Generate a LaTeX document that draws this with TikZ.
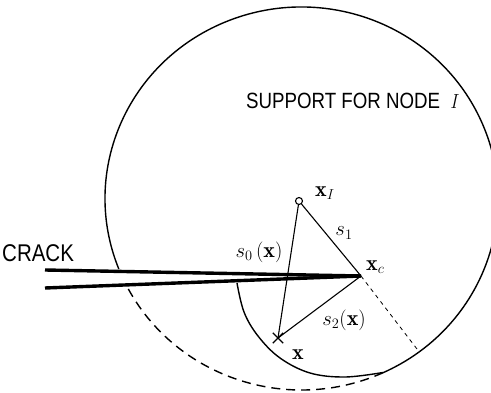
\documentclass[tikz,border=0pt]{standalone}
\usepackage{fontspec}
\setsansfont{Liberation Sans}
\usetikzlibrary{calc,shapes.misc}
\begin{document}
\begin{tikzpicture}[x=1pt,y=-1pt,
  thinline/.style={line width=1.1pt},
  bound/.style={line width=1.4pt},
  crackline/.style={line width=3.4pt},
  lab/.style={font=\fontsize{22}{24}\selectfont, inner sep=0pt},
  txt/.style={font=\sffamily\fontsize{18.7}{22}\selectfont, inner sep=0pt}]
\useasboundingbox (0,0) rectangle (491,393);
\coordinate (C) at (301.5,198.5);
\coordinate (xc) at (361,276);
\coordinate (cu) at (45,270);
\coordinate (cl) at (45,288);
\coordinate (T) at (417,349);
\coordinate (M) at ([shift={(65.5:196.5 and 191.5)}]C);
\coordinate (L) at ([shift={(151.8:196.5 and 191.5)}]C);
% support boundary
\draw[bound] (M) arc[start angle=65.5, end angle=-201.6, x radius=196.5, y radius=191.5];
\draw[bound, dash pattern=on 9pt off 6pt] (L) arc[start angle=151.8, end angle=65.5, x radius=196.5, y radius=191.5];
\draw[bound] plot[smooth, tension=0.6] coordinates {(237,283) (244,312) (258,336) (280,358) (310,373) (345,377) (383,372.5)};
% crack
\draw[crackline] (cu) -- (xc);
\draw[crackline] (cl) -- (xc);
% points
\node[circle, draw, thinline, minimum size=7pt, inner sep=0pt] (xI) at (299,201) {};
\node[cross out, draw, bound, minimum size=9pt, inner sep=0pt] (x) at (278,338) {};
% connectors
\draw[thinline] (xI) -- (xc);
\draw[thinline] (xI) -- (x.center);
\draw[thinline] (x.center) -- (xc);
\draw[line width=0.8pt, dash pattern=on 4pt off 4pt] (xc) -- (T);
% labels
\node[txt, anchor=west] (sup) at (246,101) {\scalebox{1}[1.18]{SUPPORT FOR NODE \ $I$}};
\node[txt, anchor=west, font=\sffamily\fontsize{20.5}{22}\selectfont] (crack) at (2,253) {\scalebox{1}[1.18]{CRACK}};
\node[lab, anchor=west] (lxI) at (315,193) {$\mathbf{x}_I$};
\node[lab] (ls1) at (344,233) {$s_1$};
\node[lab] (ls0) at (259,252) {$s_0\,(\mathbf{x})$};
\node[lab, anchor=west] (lxc) at (366,267) {$\mathbf{x}_c$};
\node[lab] (ls2) at (344,320) {$s_2(\mathbf{x})$};
\node[lab] (lx) at (298,355) {$\mathbf{x}$};
\end{tikzpicture}
\end{document}
